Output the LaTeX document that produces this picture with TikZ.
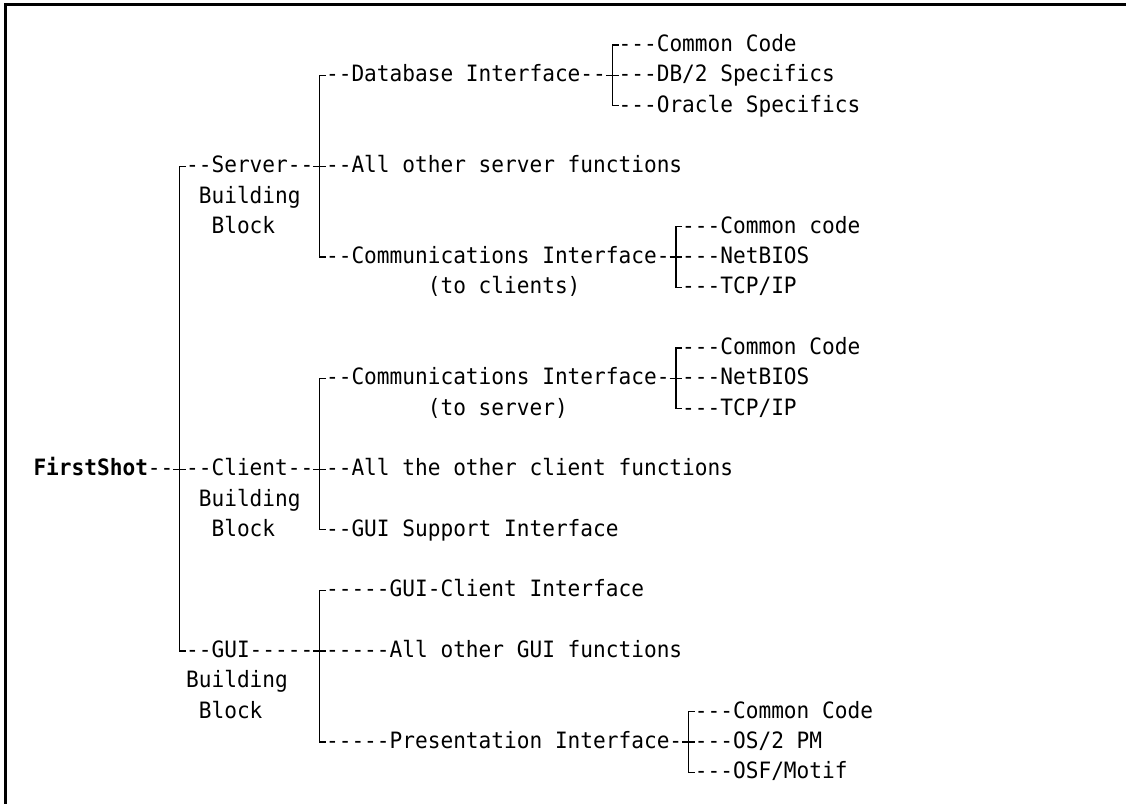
\documentclass[tikz,border=0pt]{standalone}
\usepackage{fontspec}
\setmonofont[FakeStretch=0.939]{DejaVu Sans Mono}
\newcommand\lbl[4]{\node[txt] (#1) at ({33.5+12.72*(#2)},{-51.5-30.3*(#3)}) {#4};}
\newcommand\jn[3]{%
  \coordinate (#1) at ({33.5+12.72*(#2+0.5)},{-45-30.3*(#3)});
  \coordinate (#1-l) at ({33.5+12.72*(#2)},{-45-30.3*(#3)});
  \coordinate (#1-r) at ({33.5+12.72*(#2+1)},{-45-30.3*(#3)});}
\begin{document}
\begin{tikzpicture}[x=1pt,y=1pt,
  txt/.style={anchor=base west, inner sep=0pt, outer sep=0pt, font=\ttfamily\fontsize{22.5}{26}\selectfont},
  tree/.style={line width=1.3pt},
  frame/.style={line width=2.8pt}]
\useasboundingbox (0,0) rectangle (1126,-804);
\coordinate (fTL) at (5.5,-4.5);
\coordinate (fTR) at (1126,-4.5);
\coordinate (fBL) at (5.5,-804);
\draw[frame] (fTR) -- (fTL) -- (fBL);

% ---------- texts ----------
\lbl{t0a}{46}{0}{---Common Code}
\lbl{t1a}{23}{1}{--Database Interface--}
\lbl{t1b}{46}{1}{---DB/2 Specifics}
\lbl{t2a}{46}{2}{---Oracle Specifics}
\lbl{t4a}{12}{4}{--Server--}
\lbl{t4b}{23}{4}{--All other server functions}
\lbl{t5a}{13}{5}{Building}
\lbl{t6a}{14}{6}{Block}
\lbl{t6b}{51}{6}{---Common code}
\lbl{t7a}{23}{7}{--Communications Interface-}
\lbl{t7b}{51}{7}{---NetBIOS}
\lbl{t8a}{31}{8}{(to clients)}
\lbl{t8b}{51}{8}{---TCP/IP}
\lbl{t10b}{51}{10}{---Common Code}
\lbl{t11a}{23}{11}{--Communications Interface-}
\lbl{t11b}{51}{11}{---NetBIOS}
\lbl{t12a}{31}{12}{(to server)}
\lbl{t12b}{51}{12}{---TCP/IP}
\lbl{t14a}{0}{14}{{\bfseries FirstShot}--}
\lbl{t14b}{12}{14}{--Client--}
\lbl{t14c}{23}{14}{--All the other client functions}
\lbl{t15a}{13}{15}{Building}
\lbl{t16a}{14}{16}{Block}
\lbl{t16b}{23}{16}{--GUI Support Interface}
\lbl{t18a}{23}{18}{-----GUI-Client Interface}
\lbl{t20a}{12}{20}{--GUI-----}
\lbl{t20b}{23}{20}{-----All other GUI functions}
\lbl{t21a}{12}{21}{Building}
\lbl{t22a}{13}{22}{Block}
\lbl{t22b}{52}{22}{---Common Code}
\lbl{t23a}{23}{23}{-----Presentation Interface-}
\lbl{t23b}{52}{23}{---OS/2 PM}
\lbl{t24a}{52}{24}{---OSF/Motif}

% ---------- junctions ----------
\jn{rs}{11}{4}\jn{rf}{11}{14}\jn{rg}{11}{20}
\jn{sa}{22}{1}\jn{sb}{22}{4}\jn{sc}{22}{7}
\jn{ca}{22}{11}\jn{cb}{22}{14}\jn{cc}{22}{16}
\jn{ga}{22}{18}\jn{gb}{22}{20}\jn{gc}{22}{23}
\jn{da}{45}{0}\jn{db}{45}{1}\jn{dc}{45}{2}
\jn{ka}{50}{6}\jn{kb}{50}{7}\jn{kc}{50}{8}
\jn{ma}{50}{10}\jn{mb}{50}{11}\jn{mc}{50}{12}
\jn{pa}{51}{22}\jn{pb}{51}{23}\jn{pc}{51}{24}

% ---------- tree lines ----------
\foreach \a/\b/\c in {rs/rf/rg, sa/sb/sc, ca/cb/cc, ga/gb/gc, da/db/dc, ka/kb/kc, ma/mb/mc, pa/pb/pc}{
  \draw[tree] (\a-r) -- (\a) -- (\c) -- (\c-r);
  \draw[tree] (\b-l) -- (\b-r);
}
\end{tikzpicture}
\end{document}
